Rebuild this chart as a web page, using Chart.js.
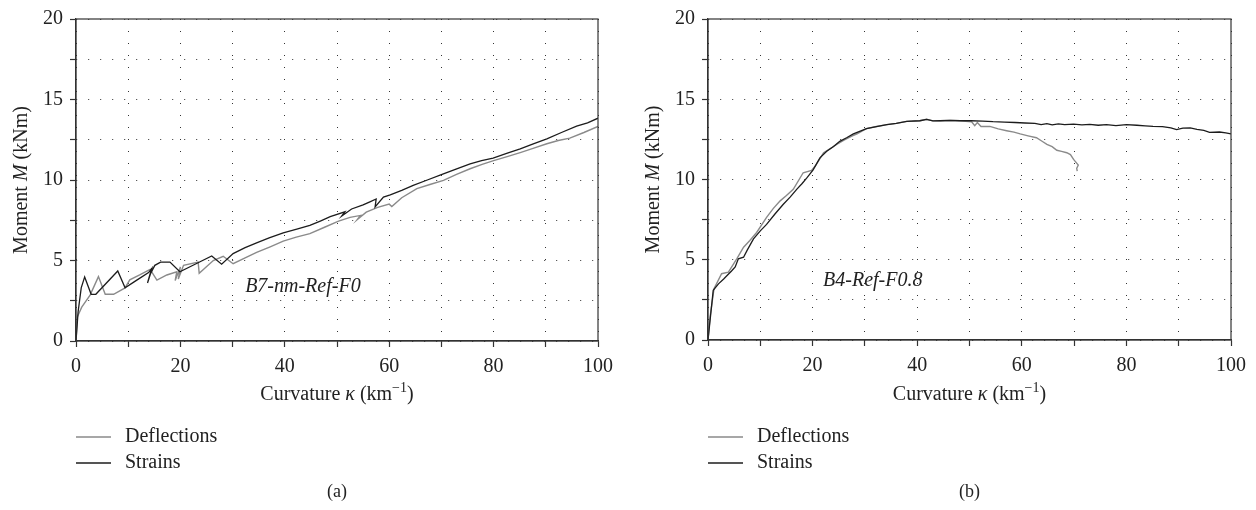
<!DOCTYPE html>
<html>
<head>
<meta charset="utf-8">
<script src="https://cdn.jsdelivr.net/npm/chart.js@4.4.1/dist/chart.umd.min.js"></script>
<style>
  body { margin: 0; background: #fff; width: 1256px; height: 510px; overflow: hidden; }
  canvas { position: absolute; top: 0; }
  #chartA { left: 0; }
  #chartB { left: 632px; }
</style>
</head>
<body>
<canvas id="chartA" width="628" height="510"></canvas>
<canvas id="chartB" width="624" height="510"></canvas>
<script>
// tick labels shown on the axes
const xTickLabels = [0, 20, 40, 60, 80, 100];
const yTickLabels = [0, 5, 10, 15, 20];
const seriesNames = ["Deflections", "Strains"];

// (a) B7-nm-Ref-F0
const aStrainK = [0, 0.4, 1.0, 1.66, 2.9, 3.8, 8.0, 9.4, 11.5, 13.9, 14.5, 13.7, 14.3, 15.1, 16.2, 18.0, 19.9, 23.0, 26.0, 27.9, 30.1, 32.4, 34.6, 37.0, 39.7, 42.3, 44.8, 46.8, 48.7, 51.5, 50.9, 52.8, 55.0, 56.3, 57.5, 57.3, 58.9, 60.2, 62.4, 64.6, 67.3, 70.0, 72.8, 75.5, 77.7, 79.9, 82.5, 85.1, 87.6, 90.2, 93.0, 95.9, 98.0, 100];
const aStrainM = [0, 1.8, 3.3, 3.98, 2.9, 2.9, 4.35, 3.3, 3.75, 4.25, 4.5, 3.6, 4.2, 4.7, 4.9, 4.9, 4.3, 4.8, 5.28, 4.77, 5.43, 5.8, 6.1, 6.4, 6.72, 6.95, 7.18, 7.45, 7.72, 8.02, 7.76, 8.2, 8.45, 8.64, 8.82, 8.33, 8.94, 9.08, 9.35, 9.67, 10.0, 10.33, 10.68, 11.0, 11.2, 11.36, 11.65, 11.94, 12.25, 12.56, 12.95, 13.34, 13.55, 13.84];
const aDeflK = [0, 0.25, 1.1, 2.7, 4.3, 5.6, 7.2, 9.4, 10.3, 12.2, 14.2, 15.5, 17.4, 19.3, 19.0, 20.0, 19.6, 20.6, 23.4, 23.6, 26.3, 28.2, 30.1, 32.3, 34.6, 37.2, 39.7, 42.2, 44.8, 47.5, 50.3, 52.5, 54.5, 53.9, 55.6, 57.8, 60.0, 60.5, 62.4, 65.3, 67.8, 70.4, 72.9, 75.5, 77.8, 80.0, 82.6, 85.1, 87.7, 90.2, 92.4, 94.6, 97.3, 100];
const aDeflM = [0, 1.5, 2.1, 2.85, 4.0, 2.9, 2.9, 3.3, 3.8, 4.1, 4.45, 3.78, 4.1, 4.3, 3.75, 4.6, 3.85, 4.7, 4.9, 4.2, 5.0, 5.26, 4.8, 5.15, 5.5, 5.85, 6.2, 6.45, 6.67, 7.05, 7.45, 7.68, 7.8, 7.55, 8.0, 8.3, 8.5, 8.35, 8.9, 9.46, 9.72, 9.98, 10.35, 10.7, 10.97, 11.2, 11.45, 11.7, 11.98, 12.25, 12.45, 12.6, 12.95, 13.33];

// (b) B4-Ref-F0.8
const bStrainK = [0, 0.4, 1.0, 2.0, 3.0, 3.6, 4.5, 5.2, 5.8, 6.8, 7.5, 8.7, 10.0, 11.2, 12.8, 14.4, 15.7, 17.0, 18.0, 18.9, 20.1, 21.4, 22.7, 24.0, 25.2, 26.5, 27.8, 29.0, 30.3, 32.2, 34.2, 36.0, 38.0, 40.5, 41.8, 43.0, 44.4, 46.3, 48.2, 50.3, 52.5, 54.5, 56.7, 58.7, 60.6, 62.5, 63.7, 64.8, 65.8, 67.0, 68.2, 69.9, 71.5, 73.0, 74.6, 76.2, 78.0, 80.0, 82.0, 83.6, 85.1, 86.9, 88.5, 89.6, 90.8, 92.2, 93.5, 94.8, 95.9, 97.8, 99.0, 100];
const bStrainM = [0, 1.24, 3.1, 3.5, 3.8, 4.0, 4.3, 4.55, 5.06, 5.16, 5.6, 6.3, 6.8, 7.2, 7.85, 8.46, 8.9, 9.4, 9.75, 10.1, 10.6, 11.35, 11.76, 12.05, 12.38, 12.6, 12.84, 13.0, 13.17, 13.3, 13.42, 13.5, 13.62, 13.66, 13.75, 13.65, 13.66, 13.68, 13.66, 13.66, 13.64, 13.6, 13.58, 13.55, 13.52, 13.5, 13.42, 13.48, 13.4, 13.47, 13.42, 13.45, 13.4, 13.44, 13.38, 13.42, 13.36, 13.42, 13.38, 13.34, 13.31, 13.3, 13.22, 13.11, 13.2, 13.21, 13.12, 13.06, 12.94, 12.96, 12.9, 12.84];
const bDeflK = [0, 0.4, 1.15, 2.6, 3.9, 5.5, 6.8, 8.0, 9.3, 11.2, 12.5, 13.8, 15.0, 16.3, 18.2, 19.8, 20.5, 22.1, 24.6, 26.0, 27.5, 28.5, 30.3, 32.2, 34.2, 36.0, 38.0, 40.5, 41.8, 43.0, 44.4, 46.3, 48.2, 50.4, 51.0, 51.5, 52.2, 53.9, 55.5, 57.1, 58.5, 59.7, 61.2, 62.8, 63.8, 64.8, 65.8, 66.7, 67.6, 68.6, 69.3, 69.9, 70.8, 70.5, 70.6];
const bDeflM = [0, 1.45, 3.2, 4.13, 4.23, 5.06, 5.78, 6.2, 6.7, 7.64, 8.2, 8.67, 9.0, 9.39, 10.42, 10.57, 10.84, 11.66, 12.18, 12.45, 12.7, 12.85, 13.17, 13.3, 13.42, 13.5, 13.62, 13.66, 13.75, 13.65, 13.66, 13.68, 13.66, 13.6, 13.35, 13.55, 13.3, 13.31, 13.15, 13.04, 12.95, 12.84, 12.72, 12.6, 12.4, 12.19, 12.05, 11.82, 11.75, 11.67, 11.55, 11.25, 10.9, 10.7, 10.52];

const FONT = "'Liberation Serif', 'Times New Roman', serif";
const INK = "#222";
const DEFL_COLOR = "#8a8a8a";
const STRAIN_COLOR = "#1c1c1c";

Chart.defaults.font.family = FONT;
Chart.defaults.color = INK;

function pts(k, m) {
    return k.map((v, i) => ({ x: v, y: m[i] }));
}

// draws a run of text pieces with different fonts, centred on x
function richText(ctx, parts, x, y) {
    let total = 0;
    parts.forEach(p => { ctx.font = p.font; total += ctx.measureText(p.t).width; });
    let cx = x - total / 2;
    ctx.textAlign = "left";
    parts.forEach(p => {
        ctx.font = p.font;
        ctx.fillText(p.t, cx, y + (p.dy || 0));
        cx += ctx.measureText(p.t).width;
    });
}

const decor = {
    id: "decor",
    afterDraw(chart, args, opts) {
        const ctx = chart.ctx;
        const area = chart.chartArea;
        const xs = chart.scales.x, ys = chart.scales.y;
        const normal = "20px " + FONT;
        const italic = "italic 20px " + FONT;
        ctx.save();

        // box round the plot
        ctx.strokeStyle = "#333";
        ctx.lineWidth = 1.2;
        ctx.strokeRect(area.left, area.top, area.right - area.left, area.bottom - area.top);

        ctx.fillStyle = INK;
        ctx.textBaseline = "alphabetic";
        const midX = (area.left + area.right) / 2;

        // x axis title
        richText(ctx, [
            { t: "Curvature ", font: normal },
            { t: "κ", font: italic },
            { t: " (km", font: normal },
            { t: "−1", font: "14px " + FONT, dy: -8 },
            { t: ")", font: normal }
        ], midX, 400);

        // y axis title
        ctx.save();
        ctx.translate(27, (area.top + area.bottom) / 2);
        ctx.rotate(-Math.PI / 2);
        richText(ctx, [
            { t: "Moment ", font: normal },
            { t: "M", font: italic },
            { t: " (kNm)", font: normal }
        ], 0, 0);
        ctx.restore();

        // specimen label
        ctx.font = italic;
        ctx.textAlign = "left";
        ctx.textBaseline = "middle";
        ctx.fillText(opts.label, xs.getPixelForValue(opts.labelAt[0]), ys.getPixelForValue(opts.labelAt[1]));

        // legend
        const legendColors = [DEFL_COLOR, STRAIN_COLOR];
        seriesNames.forEach((name, i) => {
            const y = 437 + i * 26;
            ctx.strokeStyle = legendColors[i];
            ctx.lineWidth = 1.4;
            ctx.beginPath();
            ctx.moveTo(76, y);
            ctx.lineTo(111, y);
            ctx.stroke();
            ctx.font = normal;
            ctx.fillStyle = INK;
            ctx.fillText(name, 125, y);
        });

        // caption
        ctx.font = "18px " + FONT;
        ctx.textAlign = "center";
        ctx.fillText(opts.caption, midX, 492);
        ctx.restore();
    }
};

function makeChart(id, deflK, deflM, strainK, strainM, pad, xAxisH, opts) {
    return new Chart(document.getElementById(id), {
        type: "scatter",
        data: {
            datasets: [
                { label: seriesNames[0], data: pts(deflK, deflM), borderColor: DEFL_COLOR, borderWidth: 1.4, order: 2 },
                { label: seriesNames[1], data: pts(strainK, strainM), borderColor: STRAIN_COLOR, borderWidth: 1.3, order: 1 }
            ]
        },
        options: {
            responsive: false,
            animation: false,
            devicePixelRatio: 1,
            showLine: true,
            elements: { point: { radius: 0 }, line: { tension: 0 } },
            layout: { padding: pad },
            plugins: { legend: { display: false }, tooltip: { enabled: false }, decor: opts },
            scales: {
                x: {
                    type: "linear", min: 0, max: 100,
                    afterFit: s => { s.height = xAxisH; },
                    ticks: {
                        stepSize: 10, autoSkip: false, maxRotation: 0, padding: 8,
                        font: { size: 20 }, color: INK,
                        callback: v => xTickLabels.includes(v) ? String(v) : ""
                    },
                    grid: { color: "#333", lineWidth: 1, tickLength: 6, tickColor: "#333", tickWidth: 1.2, tickBorderDash: [] },
                    border: { color: "#333", width: 1.2, dash: [1, 11] }
                },
                y: {
                    type: "linear", min: 0, max: 20,
                    afterFit: s => { s.width = 76; },
                    ticks: {
                        stepSize: 2.5, autoSkip: false, padding: 7,
                        font: { size: 20 }, color: INK,
                        callback: v => yTickLabels.includes(v) ? String(v) : ""
                    },
                    grid: { color: "#333", lineWidth: 1, tickLength: 6, tickColor: "#333", tickWidth: 1.2, tickBorderDash: [] },
                    border: { color: "#333", width: 1.2, dash: [1, 11] }
                }
            }
        },
        plugins: [decor]
    });
}

makeChart("chartA", aDeflK, aDeflM, aStrainK, aStrainM,
    { top: 18, right: 30, bottom: 110, left: 0 }, 59,
    { label: "B7-nm-Ref-F0", labelAt: [32.4, 3.4], caption: "(a)" });

makeChart("chartB", bDeflK, bDeflM, bStrainK, bStrainM,
    { top: 17, right: 25, bottom: 110, left: 0 }, 60,
    { label: "B4-Ref-F0.8", labelAt: [22.0, 3.7], caption: "(b)" });
</script>
</body>
</html>
